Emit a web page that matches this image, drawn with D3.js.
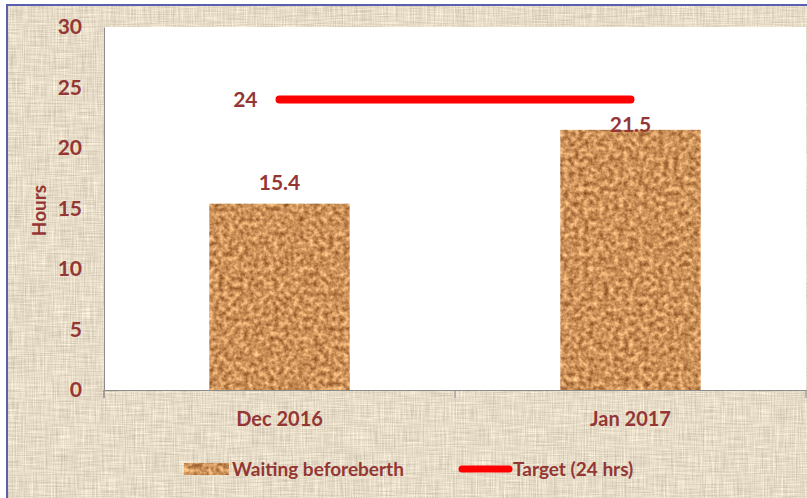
<!DOCTYPE html>
<html>
<head>
<meta charset="utf-8">
<script src="https://cdn.jsdelivr.net/npm/d3@7"></script>
<style>
  body { margin: 0; background: #fff; }
  svg { display: block; font-family: Lato, "Liberation Sans", sans-serif; }
</style>
</head>
<body>
<svg id="chart"></svg>
<script>
// chart values
const months = ["Dec 2016", "Jan 2017"];
const waiting = [15.4, 21.5];
const target = 24;
const yTicks = [0, 5, 10, 15, 20, 25, 30];
const legendNames = ["Waiting beforeberth", "Target (24 hrs)"];

const W = 807, H = 498;
const mar = { top: 27, right: 1, bottom: 108, left: 104 };
const textCol = "#943634";
const weight = "bold";

const svg = d3.select("#chart").attr("width", W).attr("height", H);
const defs = svg.append("defs");

// linen texture for the frame
const linen = defs.append("filter").attr("id", "linen")
  .attr("color-interpolation-filters", "sRGB")
  .attr("x", 0).attr("y", 0).attr("width", 1).attr("height", 1);
linen.append("feTurbulence").attr("type", "fractalNoise")
  .attr("baseFrequency", "0.9 0.04").attr("numOctaves", 2).attr("seed", 3).attr("result", "n1");
linen.append("feTurbulence").attr("type", "fractalNoise")
  .attr("baseFrequency", "0.04 0.9").attr("numOctaves", 2).attr("seed", 7).attr("result", "n2");
linen.append("feComposite").attr("in", "n1").attr("in2", "n2")
  .attr("operator", "arithmetic").attr("k2", 0.5).attr("k3", 0.5).attr("result", "n");
linen.append("feColorMatrix").attr("in", "n").attr("type", "matrix")
  .attr("values", "0.4 0 0 0 0.70  0.4 0 0 0 0.66  0.4 0 0 0 0.58  0 0 0 0 1");

// cork texture for the bars
const cork = defs.append("filter").attr("id", "cork")
  .attr("color-interpolation-filters", "sRGB")
  .attr("x", 0).attr("y", 0).attr("width", 1).attr("height", 1);
cork.append("feTurbulence").attr("type", "fractalNoise")
  .attr("baseFrequency", 0.2).attr("numOctaves", 3).attr("seed", 5).attr("result", "n");
cork.append("feColorMatrix").attr("in", "n").attr("type", "matrix")
  .attr("values", "0.7 0 0 0 0.45  0.7 0 0 0 0.22  0.6 0 0 0 0.05  0 0 0 0 1").attr("result", "c");
cork.append("feComposite").attr("in", "c").attr("in2", "SourceGraphic").attr("operator", "in");

// frame background
svg.append("rect").attr("x", 7).attr("y", 5).attr("width", W).attr("height", H)
  .attr("fill", "#e4dac8").attr("filter", "url(#linen)");
svg.append("rect").attr("x", 7).attr("y", 5).attr("width", W).attr("height", H)
  .attr("fill", "none").attr("stroke", "#5a5fb0").attr("stroke-width", 2);

const iw = W - mar.left - mar.right, ih = H - mar.top - mar.bottom;
const g = svg.append("g").attr("transform", `translate(${mar.left},${mar.top})`);

g.append("rect").attr("width", iw).attr("height", ih).attr("fill", "#fff");

const x = d3.scaleBand().domain(months).range([0, iw]).paddingInner(0).paddingOuter(0);
const y = d3.scaleLinear().domain([0, 30]).range([ih, 0]);
const bw = x.bandwidth() * 0.4;

// bars
g.selectAll(".bar").data(months).join("rect")
  .attr("class", "bar")
  .attr("x", d => x(d) + (x.bandwidth() - bw) / 2)
  .attr("y", (d, i) => y(waiting[i]))
  .attr("width", bw)
  .attr("height", (d, i) => y(0) - y(waiting[i]))
  .attr("fill", "#c48a52")
  .attr("filter", "url(#cork)");

// value labels sit above the bar, but below the target line when they would collide
g.selectAll(".val").data(months).join("text")
  .attr("class", "val")
  .attr("x", d => x(d) + x.bandwidth() / 2)
  .attr("y", (d, i) => Math.max(y(waiting[i]) - 14, y(target) + 32))
  .attr("text-anchor", "middle")
  .attr("fill", textCol).attr("font-weight", weight).attr("font-size", 21)
  .text((d, i) => waiting[i]);

// target line
const tx0 = x(months[0]) + x.bandwidth() / 2, tx1 = x(months[1]) + x.bandwidth() / 2;
g.append("line")
  .attr("x1", tx0).attr("x2", tx1)
  .attr("y1", y(target)).attr("y2", y(target))
  .attr("stroke", "#ff0000").attr("stroke-width", 8).attr("stroke-linecap", "round");
g.append("text")
  .attr("x", tx0 - 22).attr("y", y(target)).attr("dy", "0.35em")
  .attr("text-anchor", "end")
  .attr("fill", textCol).attr("font-weight", weight).attr("font-size", 21)
  .text(target);

// axes
const xa = g.append("g").attr("transform", `translate(0,${ih})`)
  .call(d3.axisBottom(x).tickSize(0).tickPadding(22));
xa.select(".domain").attr("stroke", "#8c8c8c");
xa.selectAll("text").attr("fill", textCol).attr("font-weight", weight).attr("font-size", 20)
  .attr("font-family", "Lato, sans-serif");
// category separators
g.selectAll(".sep").data([...months.map(d => x(d)), iw]).join("line")
  .attr("class", "sep")
  .attr("x1", d => d).attr("x2", d => d)
  .attr("y1", ih).attr("y2", ih + 8)
  .attr("stroke", "#8c8c8c");

const ya = g.append("g")
  .call(d3.axisLeft(y).tickValues(yTicks).tickSize(0).tickPadding(22));
ya.select(".domain").attr("stroke", "#8c8c8c");
ya.selectAll("text").attr("fill", textCol).attr("font-weight", weight).attr("font-size", 21)
  .attr("font-family", "Lato, sans-serif");
g.append("line").attr("x1", 0).attr("x2", 0).attr("y1", ih).attr("y2", ih + 8)
  .attr("stroke", "#8c8c8c");

svg.append("text")
  .attr("transform", `translate(46,${mar.top + ih / 2 + 2}) rotate(-90)`)
  .attr("text-anchor", "middle")
  .attr("fill", textCol).attr("font-weight", weight).attr("font-size", 19)
  .text("Hours");

// legend
const lg = svg.append("g").attr("transform", "translate(184,469)");
lg.append("rect").attr("x", 0).attr("y", -6).attr("width", 45).attr("height", 12)
  .attr("fill", "#c48a52").attr("filter", "url(#cork)");
lg.append("text").attr("x", 48).attr("dy", "0.35em")
  .attr("fill", textCol).attr("font-weight", weight).attr("font-size", 19)
  .text(legendNames[0]);
lg.append("line").attr("x1", 278).attr("x2", 325).attr("y1", 0).attr("y2", 0)
  .attr("stroke", "#ff0000").attr("stroke-width", 7).attr("stroke-linecap", "round");
lg.append("text").attr("x", 329).attr("dy", "0.35em")
  .attr("fill", textCol).attr("font-weight", weight).attr("font-size", 19)
  .text(legendNames[1]);
</script>
</body>
</html>
